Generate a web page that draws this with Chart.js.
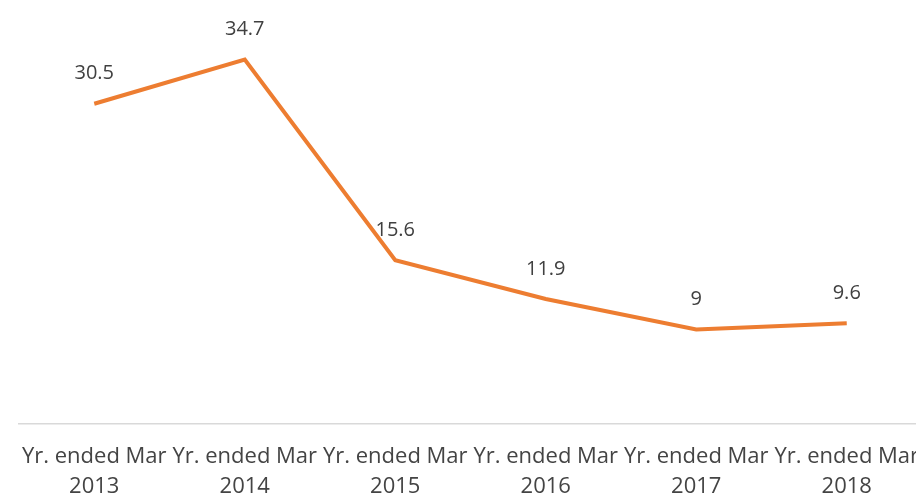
<!DOCTYPE html>
<html>
<head>
<meta charset="utf-8">
<script src="https://cdn.jsdelivr.net/npm/chart.js@4"></script>
<style>
  html, body { margin: 0; padding: 0; background: #fff; overflow: hidden; }
  #wrap { width: 922px; height: 499px; }
</style>
</head>
<body>
<div id="wrap"><canvas id="lineChart" width="922" height="499"></canvas></div>
<script>
    // 차트 데이터
    const years = ['2013', '2014', '2015', '2016', '2017', '2018'];
    const values = [30.5, 34.7, 15.6, 11.9, 9, 9.6];
    const labels = years.map(y => ['Yr. ended Mar', y]);

    // 점 위에 값 표시
    const valueLabels = {
        id: 'valueLabels',
        afterDatasetsDraw(chart) {
            const ctx = chart.ctx;
            const meta = chart.getDatasetMeta(0);
            ctx.save();
            ctx.font = '20px "Open Sans"';
            ctx.fillStyle = '#404040';
            ctx.textAlign = 'center';
            ctx.textBaseline = 'middle';
            meta.data.forEach((pt, i) => {
                ctx.fillText(String(values[i]), pt.x, pt.y - 30);
            });
            ctx.restore();
        }
    };

    const ctx = document.getElementById('lineChart').getContext('2d');
    new Chart(ctx, {
        type: 'line',
        data: {
            labels: labels,
            datasets: [{
                data: values,
                borderColor: '#ED7D31',
                borderWidth: 4,
                pointRadius: 0,
                tension: 0,
                fill: false
            }]
        },
        options: {
            responsive: false,
            animation: false,
            layout: { padding: { left: 19, right: 0, top: 4, bottom: 0 } },
            plugins: {
                legend: { display: false },
                tooltip: { enabled: false }
            },
            scales: {
                x: {
                    offset: true,
                    grid: { display: false },
                    border: { display: true, color: '#d9d9d9', width: 1.5 },
                    ticks: {
                        autoSkip: false,
                        maxRotation: 0,
                        padding: 10,
                        color: '#444444',
                        font: { family: 'Open Sans', size: 22, lineHeight: '30px' }
                    },
                    afterFit(scale) {
                        scale.height = 75;
                        scale.paddingLeft = 0;
                        scale.paddingRight = 0;
                    }
                },
                y: {
                    display: false,
                    min: 0,
                    max: 40
                }
            }
        },
        plugins: [valueLabels]
    });
</script>
</body>
</html>
